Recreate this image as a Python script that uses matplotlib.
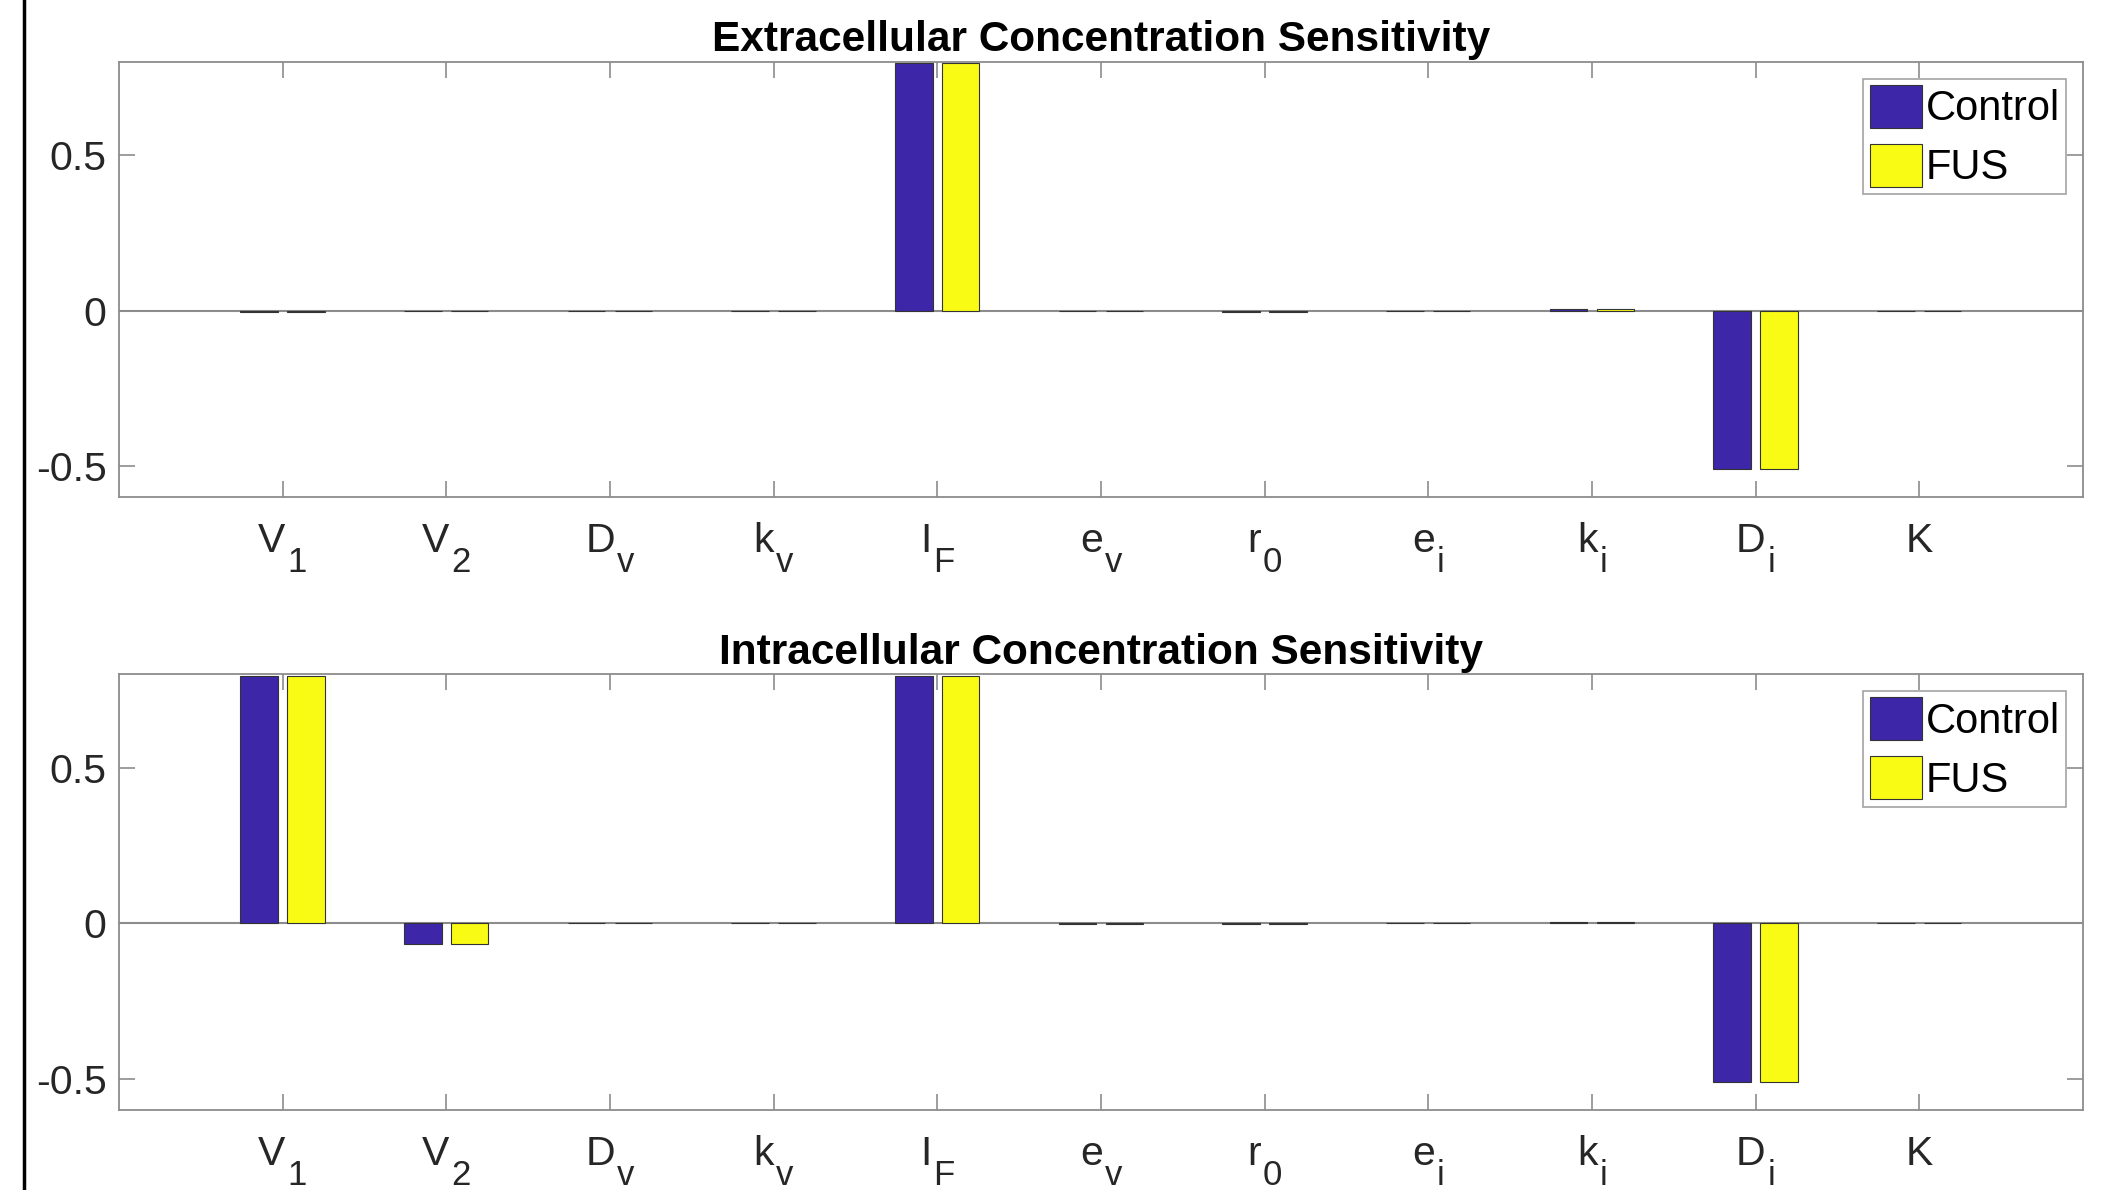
import numpy as np
import matplotlib
matplotlib.use("Agg")
import matplotlib.pyplot as plt
from matplotlib.lines import Line2D
from matplotlib.transforms import blended_transform_factory, ScaledTranslation

plt.rcParams['font.family'] = ['Liberation Sans', 'DejaVu Sans']
plt.rcParams['axes.unicode_minus'] = False

# parameter names (letter + subscript, MATLAB tex style)
param_main = ["V", "V", "D", "k", "I", "e", "r", "e", "k", "D", "K"]
param_sub = ["1", "2", "v", "v", "F", "v", "0", "i", "i", "i", ""]

# sensitivities
extra_control = [-0.003, 0.0005, 0.0005, 0.0005, 0.795, 0.0005, -0.003, 0.0005, 0.006, -0.51, 0.0005]
extra_fus     = [-0.003, 0.0005, 0.0005, 0.0005, 0.795, 0.0005, -0.003, 0.0005, 0.006, -0.51, 0.0005]
intra_control = [0.795, -0.066, 0.0005, 0.0005, 0.795, -0.001, -0.002, 0.0005, 0.004, -0.51, 0.0005]
intra_fus     = [0.795, -0.066, 0.0005, 0.0005, 0.795, -0.001, -0.002, 0.0005, 0.004, -0.51, 0.0005]

series_names = ["Control", "FUS"]
colors = ["#3e26a8", "#f9fb15"]
titles = ["Extracellular Concentration Sensitivity",
          "Intracellular Concentration Sensitivity"]

axcol = "#8c8c8c"
txtcol = "#262626"
fs = 29.5
fs_sub = 25

fig = plt.figure(figsize=(21.2, 11.9), dpi=100)
ax_top = fig.add_axes([0.0561, 0.582, 0.9264, 0.366])
ax_bot = fig.add_axes([0.0561, 0.0672, 0.9264, 0.366])

x = np.arange(1, len(param_main) + 1)
offset = 0.143
width = 0.229

for ax, title, c_vals, f_vals in [(ax_top, titles[0], extra_control, extra_fus),
                                  (ax_bot, titles[1], intra_control, intra_fus)]:
    ax.axhline(0, color=axcol, lw=1.5, zorder=1)
    ax.bar(x - offset, c_vals, width, color=colors[0], edgecolor="#333333",
           linewidth=0.8, label=series_names[0], zorder=2)
    ax.bar(x + offset, f_vals, width, color=colors[1], edgecolor="#333333",
           linewidth=0.8, label=series_names[1], zorder=2)
    ax.set_xlim(0, 12)
    ax.set_ylim(-0.6, 0.8)
    ax.set_xticks(x)
    ax.set_xticklabels([])
    ax.set_yticks([-0.5, 0, 0.5])
    ax.set_yticklabels(["-0.5", "0", "0.5"])
    ax.tick_params(axis='both', direction='in', length=11.5, width=1.2,
                   color=axcol, labelcolor=txtcol, labelsize=fs,
                   top=True, right=True)
    ax.tick_params(axis='y', pad=9)
    for sp in ax.spines.values():
        sp.set_color(axcol)
        sp.set_linewidth(1.3)
    ax.set_title(title, fontsize=30.5, fontweight='bold', pad=7.5)
    leg = ax.legend(loc='upper right', fontsize=30, frameon=True, fancybox=False,
                    edgecolor=axcol, handlelength=1.25, handleheight=1.2,
                    handletextpad=0.1, labelspacing=0.35, borderpad=0.15,
                    borderaxespad=0.4)
    leg.get_frame().set_linewidth(1.2)

# x tick labels with MATLAB-like subscripts, centred on each tick
fig.canvas.draw()
renderer = fig.canvas.get_renderer()
for ax in (ax_top, ax_bot):
    base = blended_transform_factory(ax.transData, ax.transAxes)
    for xi, main, sub in zip(x, param_main, param_sub):
        t1 = ax.text(xi, 0, main, fontsize=fs, color=txtcol, transform=base,
                     ha='left', va='baseline', clip_on=False)
        t2 = ax.text(xi, 0, sub, fontsize=fs_sub, color=txtcol, transform=base,
                     ha='left', va='baseline', clip_on=False)
        w1 = t1.get_window_extent(renderer).width / fig.dpi
        w2 = t2.get_window_extent(renderer).width / fig.dpi if sub else 0
        gap = 0.02 if sub else 0
        x0 = -(w1 + gap + w2) / 2
        t1.set_transform(base + ScaledTranslation(x0, -0.55, fig.dpi_scale_trans))
        t2.set_transform(base + ScaledTranslation(x0 + w1 + gap, -0.75, fig.dpi_scale_trans))

# black edge line at the left of the picture
fig.add_artist(Line2D([0.0115, 0.0115], [0, 1], color='black', lw=2.5,
                      transform=fig.transFigure))

fig.savefig("out.png", dpi=100, facecolor='white')
